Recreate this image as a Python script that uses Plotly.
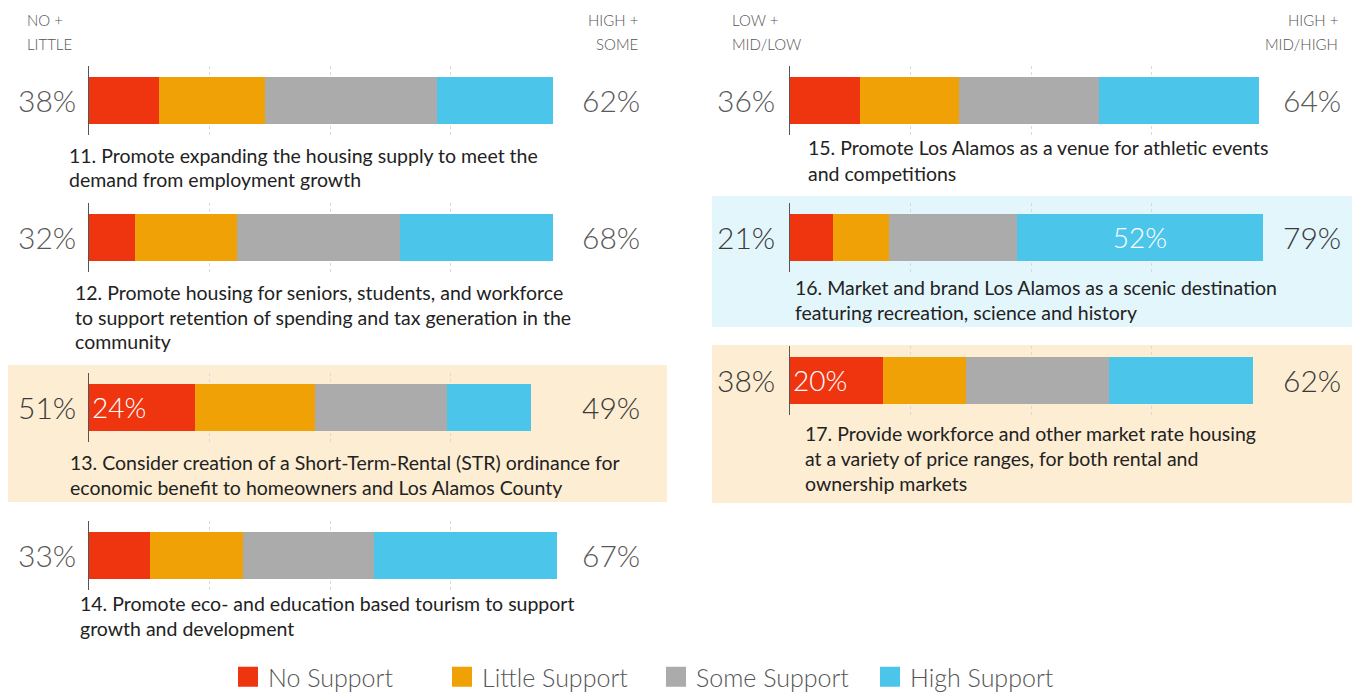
import plotly.graph_objects as go

# ---------------- data ----------------
CATEGORIES = ["No Support", "Little Support", "Some Support", "High Support"]

QUESTIONS = [
    ["11. Promote expanding the housing supply to meet the",
     "demand from employment growth"],
    ["12. Promote housing for seniors, students, and workforce",
     "to support retention of spending and tax generation in the",
     "community"],
    ["13. Consider creation of a Short-Term-Rental (STR) ordinance for",
     "economic benefit to homeowners and Los Alamos County"],
    ["14. Promote eco- and education based tourism to support",
     "growth and development"],
    ["15. Promote Los Alamos as a venue for athletic events",
     "and competitions"],
    ["16. Market and brand Los Alamos as a scenic destination",
     "featuring recreation, science and history"],
    ["17. Provide workforce and other market rate housing",
     "at a variety of price ranges, for both rental and",
     "ownership markets"],
]

NO_SUPPORT = [15, 10, 24, 13, 15, 9, 20]
LITTLE_SUPPORT = [23, 22, 27, 20, 21, 12, 18]
SOME_SUPPORT = [37, 35, 30, 28, 30, 27, 31]
HIGH_SUPPORT = [25, 33, 19, 39, 34, 52, 31]

# segments printed with their own value: (question index, category index)
LABELED_SEGMENTS = [(2, 0), (5, 3), (6, 0)]

LEFT_HEADERS = (["NO +", "LITTLE"], ["HIGH +", "SOME"])
RIGHT_HEADERS = (["LOW +", "MID/LOW"], ["HIGH +", "MID/HIGH"])

# ---------------- styling / layout ----------------
W, H = 1356, 692
COLORS = ["#EE3510", "#EFA106", "#ABABAB", "#4CC5EB"]
PEACH = "#FDEDD2"
SKY = "#E2F6FC"
FONT = "Lato"

PANEL_X0 = [89, 89, 89, 89, 790, 790, 790]       # axis start (px)
GRID_SPAN = 482                                   # axis width (px)
AXIS_MAX = [103.9, 103.9, 109.0, 103.0, 102.8, 101.9, 104.1]
BAR_CY = [100, 237, 407, 555, 100, 237, 380]      # bar centre (px)
BAR_PX = 47                                       # bar thickness (px)
AXIS_PAD = 11                                     # axis line beyond bar (px)
TEXT_X = [67, 73, 68, 78, 806, 793, 803]
TEXT_Y0 = [155, 292, 462, 603, 148, 287, 433]
LINE_GAP = 25
LEFT_PCT_X = [78, 78, 78, 78, 777, 777, 777]
RIGHT_PCT_X = [642, 642, 642, 642, 1343, 1343, 1343]
HIGHLIGHTS = {2: (8, 365, 667, 502, PEACH),
              5: (712, 196, 1352, 327, SKY),
              6: (712, 345, 1352, 503, PEACH)}
LEGEND_CX = 656


def fx(px):
    return px / W


def fy(px):
    return 1 - px / H


values = [NO_SUPPORT, LITTLE_SUPPORT, SOME_SUPPORT, HIGH_SUPPORT]
fig = go.Figure()
layout = {}
annotations = []
shapes = []

dom_h = BAR_PX + 2 * AXIS_PAD
bar_w = BAR_PX / dom_h

for q in range(len(QUESTIONS)):
    n = q + 1
    xa = "x" if n == 1 else f"x{n}"
    ya = "y" if n == 1 else f"y{n}"
    for c, cat in enumerate(CATEGORIES):
        v = values[c][q]
        labeled = (q, c) in LABELED_SEGMENTS
        fig.add_trace(go.Bar(
            x=[v], y=[0], orientation="h", name=cat,
            marker=dict(color=COLORS[c], line=dict(width=0)),
            width=bar_w, xaxis=xa, yaxis=ya, showlegend=False,
            text=[f"{v}%"] if labeled else None,
            textposition="inside" if labeled else "none",
            insidetextanchor="start" if c == 0 else "middle",
            textfont=dict(family=FONT, size=28, color="white", weight=300),
            hoverinfo="skip",
        ))
    amax = AXIS_MAX[q]
    layout["xaxis" if n == 1 else f"xaxis{n}"] = dict(
        domain=[fx(PANEL_X0[q]), fx(PANEL_X0[q] + GRID_SPAN)],
        range=[0, amax], anchor=ya,
        tickvals=[amax * k / 4 for k in range(1, 5)],
        showticklabels=False, ticks="", showgrid=True,
        gridcolor="#D9D9D9", griddash="dot", gridwidth=1,
        zeroline=False, showline=False, fixedrange=True,
    )
    cy = BAR_CY[q]
    layout["yaxis" if n == 1 else f"yaxis{n}"] = dict(
        domain=[fy(cy + dom_h / 2), fy(cy - dom_h / 2)],
        range=[-0.5, 0.5], anchor=xa,
        showticklabels=False, ticks="", showgrid=False,
        zeroline=False, showline=True, linecolor="#555", linewidth=1,
        fixedrange=True,
    )

    dark = q in HIGHLIGHTS
    pct_color = "#3A3A3A" if dark else "#595959"
    low = NO_SUPPORT[q] + LITTLE_SUPPORT[q]
    high = SOME_SUPPORT[q] + HIGH_SUPPORT[q]
    for txt, xp in ((f"{low}%", LEFT_PCT_X[q]), (f"{high}%", RIGHT_PCT_X[q])):
        annotations.append(dict(
            text=txt, xref="paper", yref="paper", x=fx(xp), y=fy(cy),
            xanchor="right", yanchor="middle", showarrow=False,
            font=dict(family=FONT, size=30, color=pct_color, weight=300),
        ))
    for li, line in enumerate(QUESTIONS[q]):
        annotations.append(dict(
            text=line, xref="paper", yref="paper",
            x=fx(TEXT_X[q]), y=fy(TEXT_Y0[q] + li * LINE_GAP),
            xanchor="left", yanchor="middle", showarrow=False,
            font=dict(family=FONT, size=19.5, color="#222222"),
        ))
    if q in HIGHLIGHTS:
        x0, y0, x1, y1, col = HIGHLIGHTS[q]
        shapes.append(dict(
            type="rect", xref="paper", yref="paper",
            x0=fx(x0), x1=fx(x1), y0=fy(y1), y1=fy(y0),
            fillcolor=col, line=dict(width=0), layer="below",
        ))

# column headers
for (lh, rh), xl, xr in ((LEFT_HEADERS, 25, 640), (RIGHT_HEADERS, 730, 1340)):
    for i, yy in enumerate((20, 44)):
        annotations.append(dict(
            text=lh[i], xref="paper", yref="paper", x=fx(xl), y=fy(yy),
            xanchor="left", yanchor="middle", showarrow=False,
            font=dict(family=FONT, size=15, color="#555", weight=300)))
        annotations.append(dict(
            text=rh[i], xref="paper", yref="paper", x=fx(xr), y=fy(yy),
            xanchor="right", yanchor="middle", showarrow=False,
            font=dict(family=FONT, size=15, color="#555", weight=300)))

# legend entries
for c, cat in enumerate(CATEGORIES):
    fig.add_trace(go.Scatter(
        x=[None], y=[None], mode="markers", name=cat,
        marker=dict(symbol="square", size=16, color=COLORS[c],
                    line=dict(color=COLORS[c], width=4)),
        showlegend=True, hoverinfo="skip",
    ))

fig.update_layout(
    width=W, height=H,
    margin=dict(l=0, r=0, t=0, b=0, autoexpand=False),
    paper_bgcolor="white", plot_bgcolor="rgba(0,0,0,0)",
    barmode="stack", bargap=0,
    annotations=annotations, shapes=shapes,
    showlegend=True,
    legend=dict(orientation="h", x=fx(LEGEND_CX), xanchor="center",
                y=fy(677), yanchor="middle", traceorder="normal",
                entrywidth=169, entrywidthmode="pixels",
                font=dict(family=FONT, size=25, color="#555", weight=300),
                bgcolor="rgba(0,0,0,0)", itemclick=False, itemdoubleclick=False),
    **layout,
)

fig.write_html("out.html")
